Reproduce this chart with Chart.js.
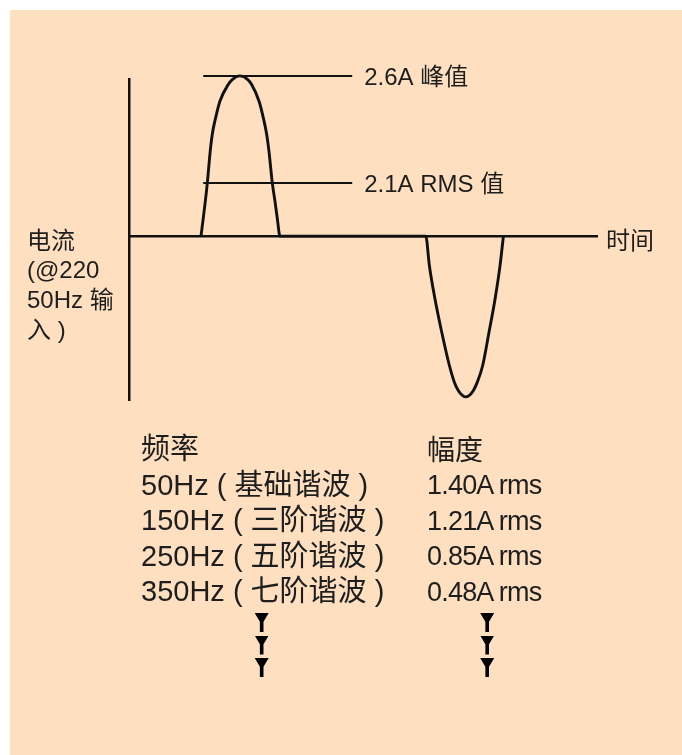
<!DOCTYPE html>
<html>
<head>
<meta charset="utf-8">
<script src="https://cdn.jsdelivr.net/npm/chart.js@4.4.1/dist/chart.umd.min.js"></script>
<style>
  html, body { margin: 0; padding: 0; background: #fff; }
  #page { position: relative; width: 682px; height: 755px; overflow: hidden; }
  #panel { position: absolute; left: 10px; top: 10px; width: 672px; height: 745px; background: #fedfc0; }
  #c { position: absolute; left: 0; top: 0; }
  .txt { position: absolute; color: #1e1e1e; white-space: pre;
         font-family: "Liberation Sans", Arial, "Noto Sans CJK SC", sans-serif; }
  #ylab { left: 27px; top: 225.6px; font-size: 24px; line-height: 29.7px; }
  #freq { left: 141px; top: 432px; font-size: 29px; line-height: 35.5px; }
  #amp  { left: 427px; top: 432.5px; font-size: 28px; line-height: 35.5px; }
  #amp .num { font-size: 27px; letter-spacing: -0.8px; }
  .arrow { position: absolute; width: 14px; height: 19px; background: #000;
           clip-path: polygon(0 0, 100% 0, 63% 46%, 63% 100%, 37% 100%, 37% 46%); }
</style>
</head>
<body>
<div id="page">
  <div id="panel"></div>
  <canvas id="c" width="682" height="755"></canvas>
  <div id="ylab" class="txt"></div>
  <div id="freq" class="txt"></div>
  <div id="amp" class="txt"></div>
</div>
<script>
// input current of a rectifier, time in ms (one 50 Hz period), current in A
const waveT = [3.20, 3.30, 3.39, 3.48, 3.61, 3.70, 3.85, 4.04, 4.41, 4.59, 4.93, 5.28, 5.45, 5.78, 5.97, 6.12, 6.22, 6.37, 6.49, 6.59, 6.71,
               13.19, 13.35, 13.60, 13.90, 14.24, 14.46, 14.64, 14.83, 14.96, 15.11, 15.30, 15.48, 15.72, 16.00, 16.27, 16.49, 16.64];
const waveI = [0, 0.29, 0.56, 0.86, 1.38, 1.65, 1.92, 2.19, 2.46, 2.54, 2.60, 2.54, 2.46, 2.19, 1.92, 1.65, 1.38, 0.86, 0.56, 0.29, 0,
               0, -0.48, -1.02, -1.56, -2.10, -2.37, -2.51, -2.59, -2.61, -2.59, -2.51, -2.37, -2.10, -1.56, -1.02, -0.48, 0];

// marker lines (peak, rms) - levels as drawn in the sketch
const markLabels = ['2.6A 峰值', '2.1A RMS 值'];
const markLevels = [2.6, 0.86];
const markFrom = 3.30;
const markTo = 9.92;

const axisLabelX = '时间';
const axisLabelY = ['电流', '(@220', '50Hz 输', '入 )'];

// harmonic table
const freqHeader = '频率';
const freqLabels = ['50Hz ( 基础谐波 )', '150Hz ( 三阶谐波 )', '250Hz ( 五阶谐波 )', '350Hz ( 七阶谐波 )'];
const ampHeader = '幅度';
const ampValues = [1.40, 1.21, 0.85, 0.48];

document.getElementById('ylab').textContent = axisLabelY.join('\n');
document.getElementById('freq').textContent = [freqHeader, ...freqLabels].join('\n');
const amp = document.getElementById('amp');
amp.appendChild(document.createTextNode(ampHeader));
ampValues.forEach(v => {
  const d = document.createElement('div');
  d.className = 'num';
  d.textContent = v.toFixed(2) + 'A rms';
  amp.appendChild(d);
});

// "more harmonics" arrows under both columns
const page = document.getElementById('page');
[254.7, 480.2].forEach(left => {
  [613, 635.5, 658].forEach(top => {
    const a = document.createElement('div');
    a.className = 'arrow';
    a.style.left = left + 'px';
    a.style.top = top + 'px';
    page.appendChild(a);
  });
});

const markLabelPlugin = {
  id: 'markLabels',
  afterDatasetsDraw(chart) {
    const { ctx, scales: { x, y } } = chart;
    ctx.save();
    ctx.fillStyle = '#1e1e1e';
    ctx.font = '24px "Liberation Sans", Arial, "Noto Sans CJK SC", sans-serif';
    ctx.textBaseline = 'alphabetic';
    markLabels.forEach((t, i) => {
      ctx.fillText(t, x.getPixelForValue(markTo) + 12, y.getPixelForValue(markLevels[i]) + 8.6);
    });
    ctx.fillText(axisLabelX, x.getPixelForValue(x.max) + 9, y.getPixelForValue(0) + 13);
    ctx.restore();
  }
};

const lineStyle = { borderColor: '#111', pointRadius: 0, clip: false, fill: false };

new Chart(document.getElementById('c'), {
  type: 'line',
  data: {
    datasets: [
      {
        ...lineStyle,
        data: waveT.map((t, i) => ({ x: t, y: waveI[i] })),
        borderWidth: 2.9,
        cubicInterpolationMode: 'monotone'
      },
      ...markLevels.map(v => ({
        ...lineStyle,
        data: [{ x: markFrom, y: v }, { x: markTo, y: v }],
        borderWidth: 2
      }))
    ]
  },
  options: {
    responsive: false,
    animation: false,
    layout: { padding: { left: 129, right: 85, top: 79, bottom: 355 } },
    plugins: { legend: { display: false }, tooltip: { enabled: false } },
    scales: {
      x: {
        type: 'linear', min: 0, max: 20.8, position: { y: 0 },
        ticks: { display: false }, grid: { display: false },
        border: { display: true, color: '#111', width: 2.5 }
      },
      y: {
        type: 'linear', min: -2.66, max: 2.55, position: { x: 0 },
        ticks: { display: false }, grid: { display: false },
        border: { display: true, color: '#111', width: 2.5 }
      }
    }
  },
  plugins: [markLabelPlugin]
});
</script>
</body>
</html>
